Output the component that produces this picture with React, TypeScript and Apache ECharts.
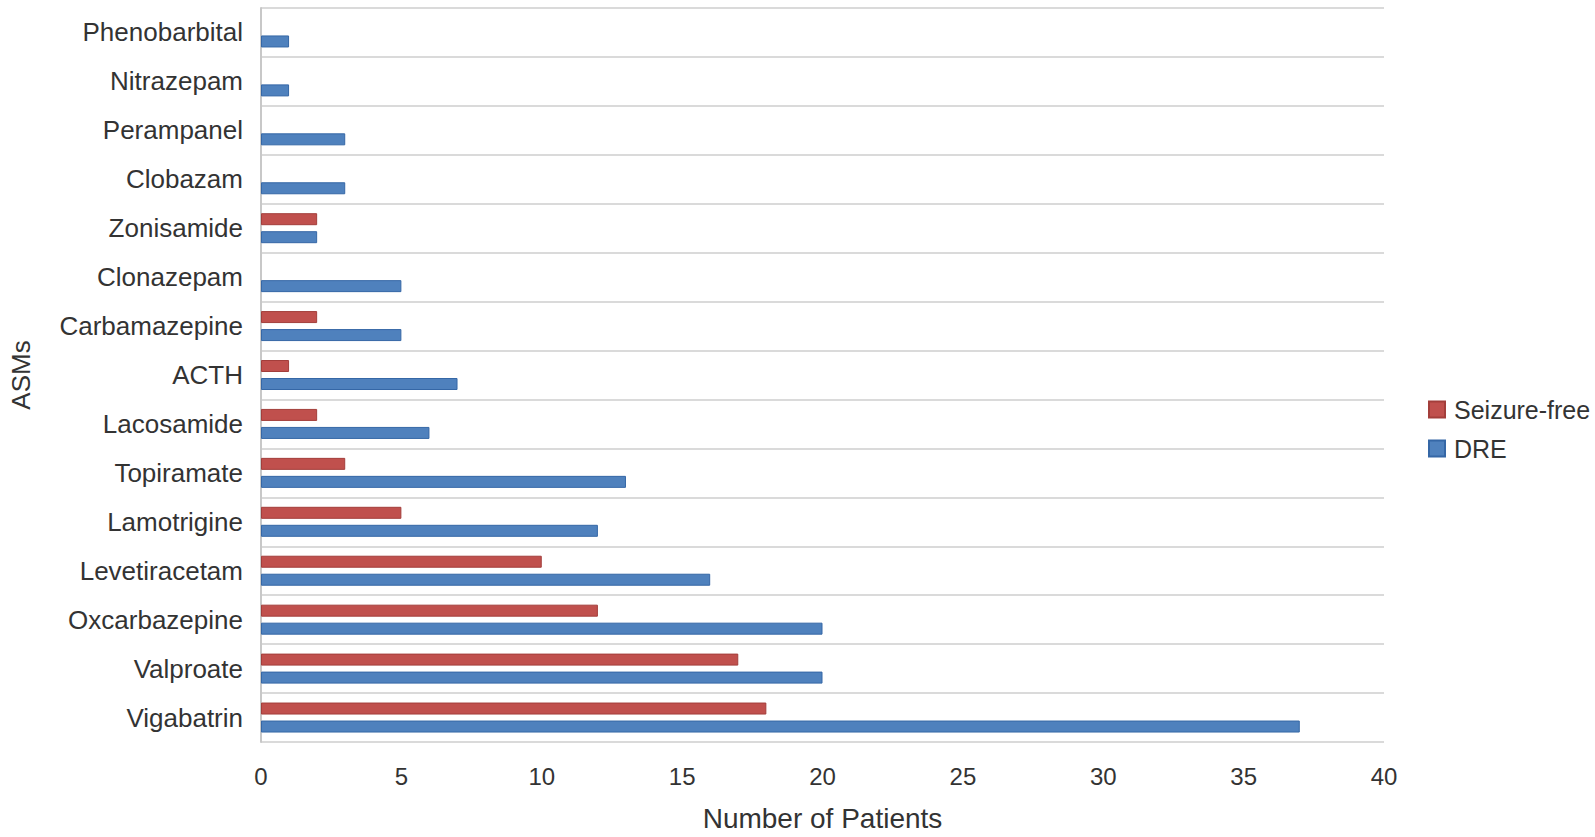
import React, { useEffect, useRef } from "react";
import * as echarts from "echarts";

// categories listed bottom to top, as the category axis draws them
const drugs = [
  "Vigabatrin", "Valproate", "Oxcarbazepine", "Levetiracetam", "Lamotrigine",
  "Topiramate", "Lacosamide", "ACTH", "Carbamazepine", "Clonazepam",
  "Zonisamide", "Clobazam", "Perampanel", "Nitrazepam", "Phenobarbital"
];
const seizureFree = [18, 17, 12, 10, 5, 3, 2, 1, 2, 0, 2, 0, 0, 0, 0];
const dre = [37, 20, 20, 16, 12, 13, 6, 7, 5, 5, 2, 3, 3, 1, 1];

const FONT = "'Liberation Sans', Arial, sans-serif";

// zero bars get no border, otherwise a stray hairline shows on the axis
const toBarData = (vals: number[]) =>
  vals.map((v) => (v === 0 ? { value: 0, itemStyle: { borderWidth: 0 } } : v));

const App: React.FC = () => {
  const chartRef = useRef<HTMLDivElement | null>(null);

  useEffect(() => {
    document.body.style.margin = "0";
    if (!chartRef.current) return;
    const chart = echarts.init(chartRef.current, null, { renderer: "svg" });

    const option = {
      animation: false,
      backgroundColor: "#ffffff",
      textStyle: { fontFamily: FONT },
      legend: {
        orient: "vertical",
        left: 1423,
        top: 392,
        itemWidth: 16,
        itemHeight: 16,
        itemGap: 14,
        icon: "rect",
        data: ["Seizure-free", "DRE"],
        textStyle: {
          fontFamily: FONT,
          fontSize: 25,
          color: "#333333",
          padding: [0, 0, 0, 4],
        },
      },
      grid: {
        left: 258,
        right: 211,
        top: 8,
        bottom: 95,
        containLabel: false,
      },
      xAxis: {
        type: "value",
        min: 0,
        max: 40,
        interval: 5,
        name: "Number of Patients",
        nameLocation: "middle",
        nameGap: 62,
        nameTextStyle: { fontFamily: FONT, fontSize: 28, color: "#333333" },
        axisLine: { show: false },
        axisTick: { show: false },
        splitLine: { show: false },
        axisLabel: { fontFamily: FONT, fontSize: 24, color: "#333333", margin: 22 },
      },
      yAxis: {
        type: "category",
        data: drugs,
        name: "ASMs",
        nameLocation: "middle",
        nameRotate: 90,
        nameGap: 227,
        nameTextStyle: { fontFamily: FONT, fontSize: 26, color: "#333333" },
        axisLine: { show: true, lineStyle: { color: "#c8c8c8", width: 2 } },
        axisTick: { show: false },
        splitLine: { show: true, lineStyle: { color: "#dadada", width: 2 } },
        axisLabel: { fontFamily: FONT, fontSize: 26, color: "#333333", margin: 18 },
      },
      series: [
        {
          name: "Seizure-free",
          type: "bar",
          barWidth: 12,
          barGap: "50%",
          data: toBarData(seizureFree),
          itemStyle: { color: "#C0504D", borderColor: "#A33E3B", borderWidth: 1 },
        },
        {
          name: "DRE",
          type: "bar",
          barWidth: 12,
          barGap: "50%",
          data: toBarData(dre),
          itemStyle: { color: "#4F81BD", borderColor: "#3567A6", borderWidth: 1 },
        },
      ],
    };

    chart.setOption(option);

    const handleResize = () => chart.resize();
    window.addEventListener("resize", handleResize);
    return () => {
      window.removeEventListener("resize", handleResize);
      chart.dispose();
    };
  }, []);

  return <div ref={chartRef} style={{ width: 1595, height: 837 }} />;
};

export default App;
